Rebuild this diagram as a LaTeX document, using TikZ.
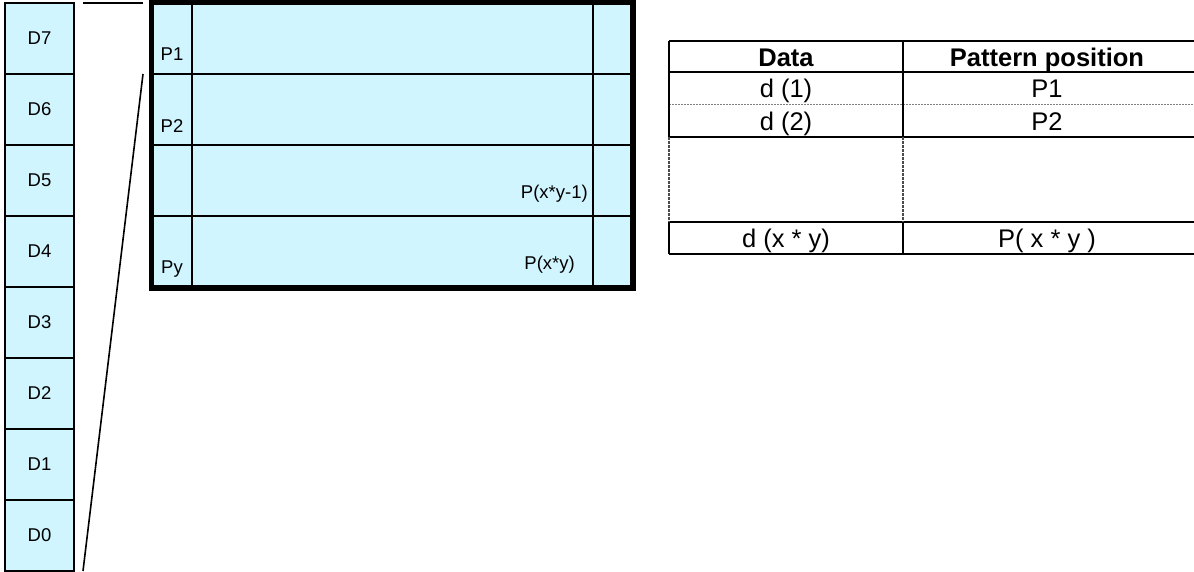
\documentclass[tikz,border=0pt]{standalone}
\usepackage{fontspec}
\setmainfont{Liberation Sans}
\definecolor{cellfill}{RGB}{208,245,255}
\tikzset{
  dcell/.style={draw=black, fill=cellfill, line width=2pt, minimum width=69pt, minimum height=71pt, inner sep=0pt, font=\fontsize{18.5}{22}\selectfont},
  gridbox/.style={draw=black, fill=cellfill, line width=3.5pt, minimum width=480pt, minimum height=284pt, inner sep=0pt},
  glabel/.style={inner sep=0pt, font=\fontsize{18.5}{22}\selectfont},
  tlabel/.style={inner sep=0pt, anchor=base, font=\fontsize{25.5}{30}\selectfont},
  thead/.style={inner sep=0pt, anchor=base, font=\fontsize{25.5}{30}\selectfont\bfseries},
  tline/.style={line width=2.2pt},
  vline/.style={line width=2pt},
  vdash/.style={line width=2pt, draw=black!70, dash pattern=on 3pt off 1pt},
  rowdot/.style={line width=1pt, draw=black!50, dash pattern=on 1.5pt off 1.5pt},
  gline/.style={line width=1.3pt},
  zline/.style={line width=1.6pt},
}
\begin{document}
\begin{tikzpicture}[x=1pt,y=-1pt]
\useasboundingbox (0,0) rectangle (1194,571);
\clip (0,0) rectangle (1194,571);
% data bit column
\foreach \i/\yy in {7/38.5,6/109.5,5/180.5,4/251.5,3/322.5,2/393.5,1/464.5,0/535.5}
  \node[dcell] (d\i) at (39.5,\yy) {D\i};
% zoom lines
\coordinate (zA) at (83,3);
\coordinate (zB) at (143,3);
\coordinate (zC) at (143,74);
\coordinate (zD) at (83,571);
\draw[zline] (zA) -- (zB);
\draw[zline] (zC) -- (zD);
% pattern grid
\node[gridbox] (grid) at (392,145) {};
\draw[gline] (192,3) -- (192,287);
\draw[gline] (593,3) -- (593,287);
\draw[gline] (152,74) -- (632,74);
\draw[gline] (152,145) -- (632,145);
\draw[gline] (152,216) -- (632,216);
\draw[line width=3.5pt] (grid.north west) rectangle (grid.south east);
\node[glabel, anchor=base] (p1) at (172,60) {P1};
\node[glabel, anchor=base] (p2) at (172,132) {P2};
\node[glabel, anchor=base] (py) at (172,273) {Py};
\node[glabel, anchor=base east] (pxy1) at (588,198) {P(x*y-1)};
\node[glabel, anchor=base east] (pxy) at (575,269) {P(x*y)};
% table
\draw[tline] (669,41) -- (1196,41);
\draw[tline] (669,72) -- (1196,72);
\draw[rowdot] (669,104) -- (1196,104);
\draw[tline] (669,137) -- (1196,137);
\draw[tline] (669,222) -- (1196,222);
\draw[tline] (669,254) -- (1196,254);
\draw[vline] (669,41) -- (669,137);
\draw[vline] (903,41) -- (903,137);
\draw[vdash] (669,137) -- (669,222);
\draw[vdash] (903,137) -- (903,222);
\draw[vline] (669,222) -- (669,254);
\draw[vline] (903,222) -- (903,254);
\node[thead] (hdata) at (786,66) {Data};
\node[thead] (hpat) at (1047,66) {Pattern position};
\node[tlabel] (r1a) at (786,97.5) {d (1)};
\node[tlabel] (r1b) at (1047,97.5) {P1};
\node[tlabel] (r2a) at (786,130.5) {d (2)};
\node[tlabel] (r2b) at (1047,130.5) {P2};
\node[tlabel] (rna) at (786,247.5) {d (x * y)};
\node[tlabel] (rnb) at (1047,247.5) {P( x * y )};
\end{tikzpicture}
\end{document}
